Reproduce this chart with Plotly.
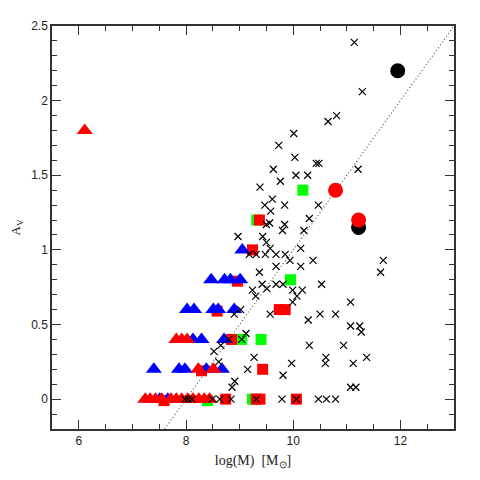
import plotly.graph_objects as go

# crosses (comparison sample)
cross_x = [11.14, 11.29, 10.81, 10.65, 10.01, 9.73, 10.03, 10.43, 10.48,
           9.63, 11.21, 10.05, 10.27, 9.76, 9.38, 9.61, 9.84, 10.47, 9.47, 9.58,
           10.30, 9.84, 9.56, 9.50, 9.80, 10.20, 8.97, 9.43, 9.50, 9.57, 10.14,
           9.18, 9.31, 9.48, 9.68, 9.85, 9.94, 10.37, 11.68, 9.68, 10.14, 9.37, 11.63,
           9.42, 9.68, 9.81, 10.53, 9.51, 9.24, 9.99, 10.17, 9.30, 10.07, 11.07, 9.99,
           9.02, 8.90, 9.57, 10.50, 10.79, 10.28, 11.07, 11.24, 11.27, 9.12, 9.04,
           8.80, 8.65, 10.30, 10.94, 8.52, 9.27, 10.61, 11.37, 8.61, 9.97, 10.60,
           11.12, 9.15, 9.81, 8.91, 8.86, 11.07, 11.17,
           7.98, 8.04, 8.11, 8.49, 8.63, 8.84, 9.31, 9.79, 10.06, 10.47, 10.62, 10.79]
cross_y = [2.39, 2.06, 1.90, 1.86, 1.78, 1.70, 1.62, 1.58, 1.58,
           1.54, 1.54, 1.50, 1.50, 1.46, 1.42, 1.34, 1.30, 1.30, 1.30, 1.26,
           1.21, 1.17, 1.18, 1.17, 1.13, 1.13, 1.09, 1.09, 1.05, 1.01, 1.01,
           0.97, 0.97, 0.97, 0.97, 0.97, 0.93, 0.93, 0.93, 0.89, 0.89, 0.85, 0.85,
           0.77, 0.77, 0.77, 0.77, 0.74, 0.73, 0.73, 0.73, 0.69, 0.69, 0.65, 0.65,
           0.60, 0.57, 0.57, 0.57, 0.57, 0.53, 0.49, 0.49, 0.45, 0.44, 0.40,
           0.40, 0.36, 0.36, 0.36, 0.32, 0.28, 0.28, 0.28, 0.25, 0.24, 0.24,
           0.24, 0.20, 0.16, 0.12, 0.08, 0.08, 0.08,
           0, 0, 0, 0, 0, 0, 0, 0, 0, 0, 0, 0]

# green squares
green_x = [10.18, 9.95, 9.32, 9.04, 9.40, 8.40, 9.24]
green_y = [1.40, 0.80, 1.20, 0.40, 0.40, -0.01, 0.0]

# red squares
rsq_x = [9.37, 9.24, 8.96, 8.58, 9.74, 9.85, 8.85, 9.43, 8.29, 7.59, 8.74, 9.31, 9.38, 10.06]
rsq_y = [1.20, 1.00, 0.79, 0.59, 0.60, 0.60, 0.40, 0.20, 0.19, -0.01, 0.0, 0.0, 0.0, 0.0]

# blue triangles
blue_x = [9.05, 8.47, 8.72, 8.83, 9.01, 8.02, 8.15, 8.51, 8.60, 8.90,
          8.13, 8.29, 8.71, 7.40, 7.87, 7.98, 8.38, 8.67, 7.51, 7.66]
blue_y = [1.0, 0.8, 0.8, 0.8, 0.8, 0.6, 0.6, 0.6, 0.6, 0.6,
          0.4, 0.4, 0.4, 0.2, 0.2, 0.2, 0.2, 0.2, 0.0, 0.0]

# red triangles
rtri_x = [6.11, 7.82, 7.92, 8.02, 8.23, 8.51,
          7.24, 7.33, 7.43, 7.55, 7.72, 7.82, 7.92, 8.03, 8.13, 8.24, 8.34, 8.44]
rtri_y = [1.80, 0.4, 0.4, 0.4, 0.2, 0.2,
          0, 0, 0, 0, 0, 0, 0, 0, 0, 0, 0, 0]

# big circles
bcirc_x = [11.95, 11.22]
bcirc_y = [2.20, 1.15]
rcirc_x = [10.79, 11.22]
rcirc_y = [1.40, 1.20]

# dotted relation
fit_x = [7.6, 13.0]
fit_y = [-0.2, 2.5]

fig = go.Figure()
fig.add_trace(go.Scatter(x=fit_x, y=fit_y, mode='lines',
                         line=dict(color='#555555', width=1.2, dash='1px,2.5px')))
fig.add_trace(go.Scatter(x=green_x, y=green_y, mode='markers',
                         marker=dict(symbol='square', size=11, color='#00ff00')))
fig.add_trace(go.Scatter(x=rsq_x, y=rsq_y, mode='markers',
                         marker=dict(symbol='square', size=11, color='#ff0000')))
fig.add_trace(go.Scatter(x=blue_x, y=blue_y, mode='markers',
                         marker=dict(symbol='triangle-up', size=14, color='#0000ff')))
fig.add_trace(go.Scatter(x=rtri_x, y=rtri_y, mode='markers',
                         marker=dict(symbol='triangle-up', size=14, color='#ff0000')))
fig.add_trace(go.Scatter(x=bcirc_x, y=bcirc_y, mode='markers',
                         marker=dict(symbol='circle', size=15, color='black')))
fig.add_trace(go.Scatter(x=rcirc_x, y=rcirc_y, mode='markers',
                         marker=dict(symbol='circle', size=15, color='#ff0000')))
fig.add_trace(go.Scatter(x=cross_x, y=cross_y, mode='markers',
                         marker=dict(symbol='x-thin-open', size=7, color='black',
                                     line=dict(color='black', width=1.2))))

axis_common = dict(showline=True, linecolor='#333333', linewidth=1.5, mirror='ticks',
                   ticks='inside', ticklen=9, tickwidth=1, tickcolor='#333333',
                   showgrid=False, zeroline=False, automargin=False,
                   tickfont=dict(family='Liberation Sans', size=12, color='#222222'))

fig.update_xaxes(range=[5.5, 13], tick0=6, dtick=2,
                 minor=dict(dtick=0.5, ticklen=5, ticks='inside', tickcolor='#333333'),
                 title=dict(text='log(M)  [M<sub>⊙</sub>]', standoff=8,
                            font=dict(family='Liberation Serif', size=14, color='#222222')),
                 **axis_common)
fig.update_yaxes(range=[-0.2, 2.5], tick0=0, dtick=0.5,
                 minor=dict(dtick=0.1, ticklen=5, ticks='inside', tickcolor='#333333'),
                 title=dict(text='A<sub>V</sub>', standoff=14,
                            font=dict(family='Liberation Serif', size=13, color='#222222')),
                 **axis_common)

# page adds an 8px body margin, so shift the plot area back
fig.update_layout(width=480, height=480, showlegend=False,
                  margin=dict(l=44, r=34, t=18, b=59),
                  plot_bgcolor='white', paper_bgcolor='white')

fig.write_html("out.html")
